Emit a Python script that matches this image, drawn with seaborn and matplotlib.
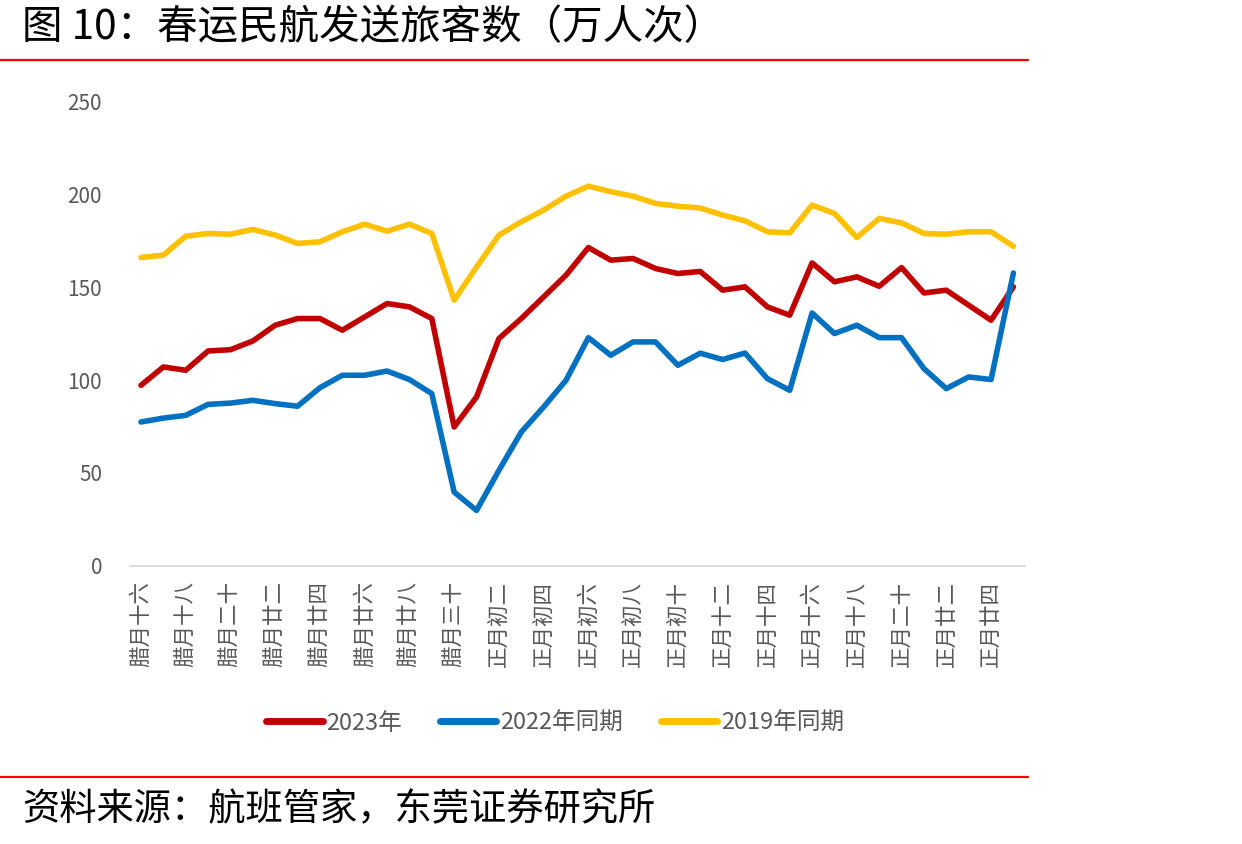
import matplotlib
matplotlib.use("Agg")
import matplotlib.pyplot as plt
from matplotlib.lines import Line2D
import seaborn as sns
import pandas as pd

# ---- data ----
la_days = ["十六", "十七", "十八", "十九", "二十", "廿一", "廿二", "廿三", "廿四", "廿五",
           "廿六", "廿七", "廿八", "廿九", "三十"]
zheng_days = ["初一", "初二", "初三", "初四", "初五", "初六", "初七", "初八", "初九", "初十",
              "十一", "十二", "十三", "十四", "十五", "十六", "十七", "十八", "十九", "二十",
              "廿一", "廿二", "廿三", "廿四", "廿五"]
categories = ["腊月" + d for d in la_days] + ["正月" + d for d in zheng_days]

series_names = ["2023年", "2022年同期", "2019年同期"]

values_2023 = [97.2, 107.1, 105.3, 115.7, 116.4, 121.1, 129.6, 133.2, 133.2, 126.9,
               134.1, 141.3, 139.5, 133.2, 74.7, 90.9, 122.4, 133.2, 144.9, 156.6,
               171.5, 164.7, 165.6, 160.2, 157.5, 158.6, 148.5, 150.3, 139.5, 135.0,
               163.2, 153.0, 155.7, 150.6, 160.7, 147.0, 148.5, 140.4, 132.3, 150.3]
values_2022 = [77.4, 79.5, 81.0, 86.9, 87.6, 89.1, 87.3, 85.9, 95.9, 102.6,
               102.6, 104.9, 100.3, 92.7, 39.6, 29.7, 51.3, 72.0, 85.5, 99.9,
               122.9, 113.4, 120.6, 120.6, 108.0, 114.5, 111.1, 114.6, 100.8, 94.5,
               136.2, 125.1, 129.6, 122.9, 122.9, 106.2, 95.4, 101.7, 100.3, 157.8]
values_2019 = [166.1, 167.4, 177.6, 179.1, 178.7, 181.3, 178.2, 173.7, 174.6, 180.0,
               184.1, 180.3, 184.1, 179.1, 143.1, 161.0, 178.2, 185.4, 191.7, 199.2,
               204.6, 201.6, 199.2, 195.3, 193.8, 192.8, 189.0, 185.9, 180.0, 179.4,
               194.4, 189.9, 176.9, 187.2, 184.8, 179.1, 178.7, 180.0, 180.0, 172.2]

y_ticks = [0, 50, 100, 150, 200, 250]

title = "图 10：春运民航发送旅客数（万人次）"
source = "资料来源：航班管家，东莞证券研究所"

colors = {"2023年": "#C00000", "2022年同期": "#0070C0", "2019年同期": "#FFC000"}

# ---- build long table ----
rows = []
for name, vals in zip(series_names, [values_2023, values_2022, values_2019]):
    for i, v in enumerate(vals):
        rows.append({"idx": i, "value": v, "series": name})
df = pd.DataFrame(rows)

sns.set_theme(style="white")
plt.rcParams["font.family"] = ["Noto Sans CJK SC", "DejaVu Sans"]

W, H = 1242, 844
fig = plt.figure(figsize=(W / 100, H / 100), dpi=100)
ax = fig.add_axes([129.8 / W, 1 - 565.5 / H, (1024.6 - 129.8) / W, (565.5 - 102) / H])

sns.lineplot(data=df, x="idx", y="value", hue="series", hue_order=series_names,
             palette=colors, linewidth=4.0, ax=ax, legend=False, sort=False)
for ln in ax.get_lines():
    ln.set_solid_capstyle("round")
    ln.set_solid_joinstyle("round")

ax.set_xlim(-0.5, len(categories) - 0.5)
ax.set_ylim(0, 250)
ax.set_yticks(y_ticks)
ax.set_yticklabels([str(t) for t in y_ticks], fontsize=15, color="#595959")
ax.set_xticks(list(range(0, len(categories), 2)))
ax.set_xticklabels(categories[::2], rotation=90, fontsize=15.5, color="#595959",
                   va="top", ha="center")
ax.tick_params(axis="x", length=0, pad=11)
ax.tick_params(axis="y", length=0, pad=20)
ax.set_xlabel("")
ax.set_ylabel("")
for s in ["top", "right", "left"]:
    ax.spines[s].set_visible(False)
ax.spines["bottom"].set_color("#D9D9D9")
ax.spines["bottom"].set_linewidth(1.3)
ax.grid(False)

# legend
handles = [Line2D([0], [0], color=colors[n], linewidth=5, solid_capstyle="round")
           for n in series_names]
fig.legend(handles, series_names, loc="center", bbox_to_anchor=(555 / W, 1 - 723 / H),
           ncol=3, frameon=False, fontsize=17, handlelength=2.4, handletextpad=0.15,
           columnspacing=1.6, labelcolor="#595959")

# title, rules, source (font size fitted to the reference text width)
renderer = fig.canvas.get_renderer()

def fitted_text(x_px, y_px, s, target_w, base=24):
    t = fig.text(x_px / W, 1 - y_px / H, s, fontsize=base, color="black",
                 ha="left", va="center")
    w = t.get_window_extent(renderer=renderer).width
    t.set_fontsize(base * target_w / w)
    return t

fitted_text(22, 28, title, 703)
fitted_text(22, 810, source, 635)

fig.add_artist(Line2D([0, 1028 / W], [1 - 59.5 / H, 1 - 59.5 / H], color="#FF0000",
                      linewidth=1.6, transform=fig.transFigure))
fig.add_artist(Line2D([0, 1028 / W], [1 - 777 / H, 1 - 777 / H], color="#FF0000",
                      linewidth=1.6, transform=fig.transFigure))

fig.savefig("out.png", dpi=100)
